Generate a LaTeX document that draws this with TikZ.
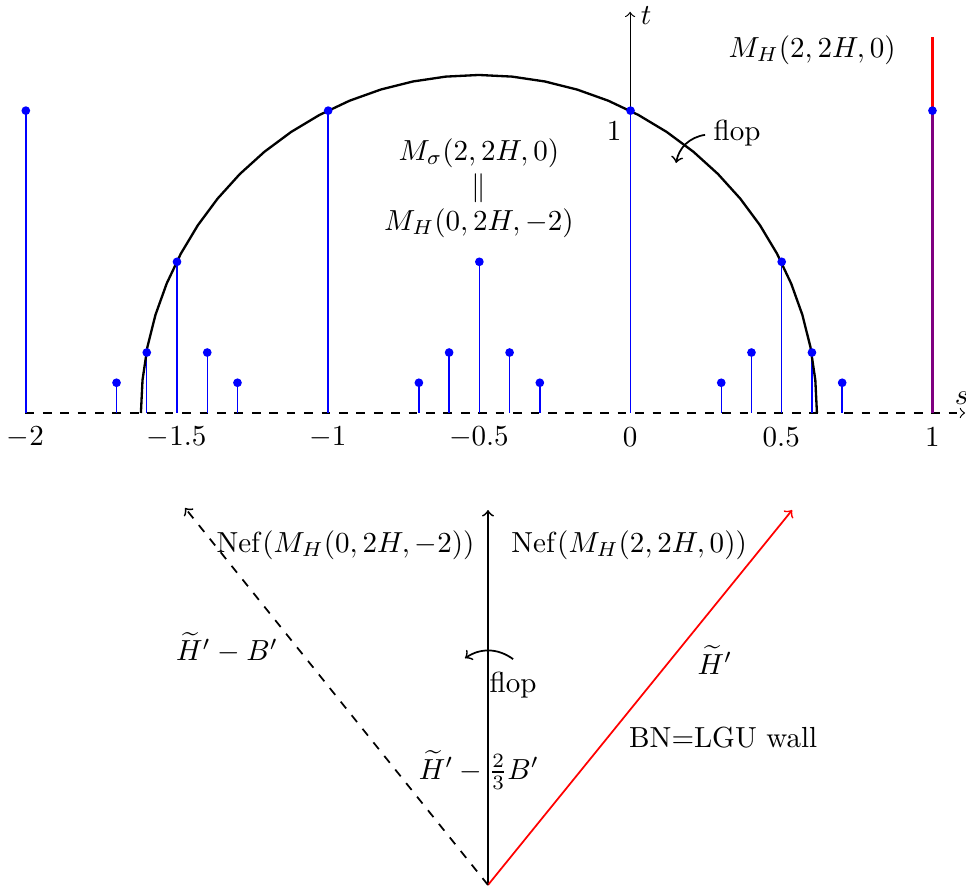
\documentclass[tikz,border=0pt]{standalone}
\begin{document}
\begin{tikzpicture}[x=3.66cm,y=3.66cm,
  dotst/.style={circle,fill=blue,inner sep=0pt,minimum size=3pt},
  stem/.style={blue,line width=0.5pt},
  lbl/.style={inner sep=1pt}]
\useasboundingbox (-2.084,-1.581) rectangle (1.111,1.366);
% axes
\draw[dashed,->] (-2,0) coordinate (sa) -- (1.108,0) coordinate (sb);
\node[lbl] (slab) at (1.097,0.05) {$s$};
\draw[->] (0,0) coordinate (ta) -- (0,1.327) coordinate (tb);
\node[lbl] (tlab) at (0.053,1.313) {$t$};
% red wall line
\draw[red,line width=0.8pt] (1,0) coordinate (wa) -- (1,1.244) coordinate (wb);
% stems
\foreach \a/\b [count=\i] in {-2/1,-1.7/0.1,-1.6/0.2,-1.5/0.5,-1.4/0.2,-1.3/0.1,-1/1,-0.7/0.1,-0.6/0.2,-0.5/0.5,-0.4/0.2,-0.3/0.1,0/1,0.3/0.1,0.4/0.2,0.5/0.5,0.6/0.2,0.7/0.1}
  \draw[stem] ([xshift=0.15pt]\a,0) coordinate (b\i) -- ([xshift=0.15pt]\a,\b) coordinate (c\i);
\draw[blue,opacity=0.5,line width=0.8pt] (1,0) coordinate (b19) -- (1,1) coordinate (c19);
% semicircle
\draw[line width=0.8pt] plot[domain=0:180,samples=33] ({-0.5+1.118*cos(\x)},{1.118*sin(\x)});
% dots
\foreach \i in {1,...,19} \node[dotst] (d\i) at (c\i) {};
% tick labels
\foreach \x/\l [count=\k] in {-2/-2,-1.5/-1.5,-1/-1,-0.5/-0.5,0/0,0.5/0.5,1/1}
  \node[lbl] (tk\k) at (\x,-0.08) {$\l$};
% labels
\node[lbl] (one) at (-0.053,0.933) {$1$};
\node[lbl] (mh) at (0.602,1.201) {$M_H(2,2H,0)$};
\node[lbl,align=center] (msig) at (-0.5,0.744) {$M_\sigma(2,2H,0)$\\$\|$\\$M_H(0,2H,-2)$};
\node[lbl] (flop1) at (0.354,0.926) {flop};
\coordinate (f1a) at (0.248,0.920);
\coordinate (f1b) at (0.152,0.827);
\draw[->,line width=0.6pt] (f1a) to[bend right=35] (f1b);
% lower diagram
\coordinate (O) at (-0.47,-1.561);
\coordinate (A) at (-0.47,-0.321);
\coordinate (R) at (0.536,-0.321);
\coordinate (L) at (-1.472,-0.314);
\draw[->,line width=0.6pt] (O) -- (A);
\draw[->,red,line width=0.6pt] (O) -- (R);
\draw[->,dashed,line width=0.6pt] (O) -- (L);
\node[lbl,anchor=east] (nef1) at (-0.503,-0.437) {$\mathrm{Nef}(M_H(0,2H,-2))$};
\node[lbl,anchor=west] (nef2) at (-0.404,-0.437) {$\mathrm{Nef}(M_H(2,2H,0))$};
\node[lbl] (hb) at (-1.333,-0.777) {$\widetilde{H}'-B'$};
\node[lbl] (ht) at (0.281,-0.817) {$\widetilde{H}'$};
\node[lbl] (bn) at (0.308,-1.075) {BN=LGU wall};
\node[lbl] (flop2) at (-0.387,-0.900) {flop};
\node[lbl] (h23) at (-0.5,-1.181) {$\widetilde{H}'-\frac{2}{3}B'$};
\coordinate (f2a) at (-0.387,-0.814);
\coordinate (f2b) at (-0.546,-0.811);
\draw[->,line width=0.6pt] (f2a) to[bend right=35] (f2b);
\end{tikzpicture}
\end{document}
